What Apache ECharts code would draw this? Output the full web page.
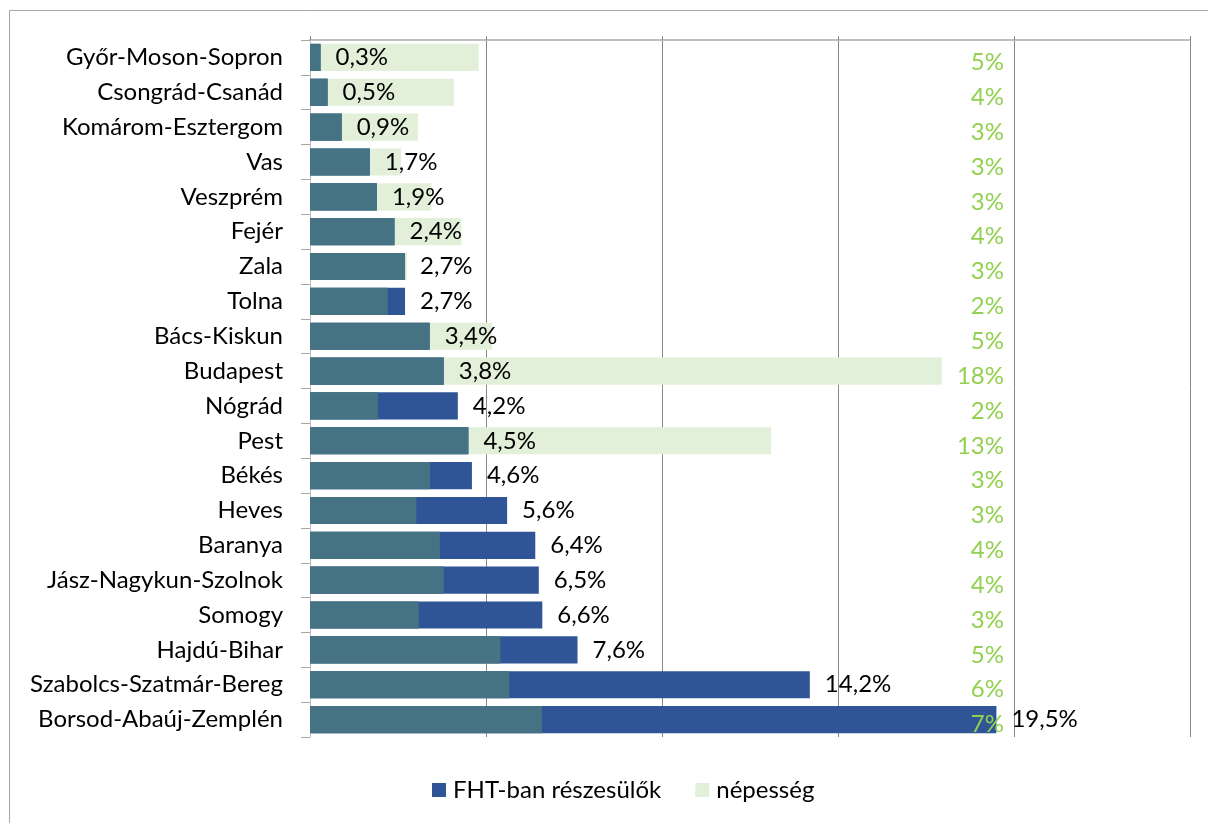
<!DOCTYPE html>
<html>
<head>
<meta charset="utf-8">
<script src="https://cdn.jsdelivr.net/npm/echarts@6/dist/echarts.min.js"></script>
<style>
  html, body { margin: 0; padding: 0; background: #fff; }
  #chart { width: 1208px; height: 823px; }
</style>
</head>
<body>
<div id="chart"></div>
<script>
// megyék, felülről lefelé
const megyek = [
    'Győr-Moson-Sopron', 'Csongrád-Csanád', 'Komárom-Esztergom', 'Vas', 'Veszprém',
    'Fejér', 'Zala', 'Tolna', 'Bács-Kiskun', 'Budapest', 'Nógrád', 'Pest', 'Békés',
    'Heves', 'Baranya', 'Jász-Nagykun-Szolnok', 'Somogy', 'Hajdú-Bihar',
    'Szabolcs-Szatmár-Bereg', 'Borsod-Abaúj-Zemplén'
];

// FHT-ban részesülők aránya (%)
const fht = [0.3, 0.5, 0.9, 1.7, 1.9, 2.4, 2.7, 2.7, 3.4, 3.8, 4.2, 4.5, 4.6, 5.6, 6.4, 6.5, 6.6, 7.6, 14.2, 19.5];

// népesség aránya (%) - a sávok hosszából becsülve
const nepesseg = [4.79, 4.09, 3.07, 2.59, 3.45, 4.3, 2.75, 2.21, 5.17, 17.95, 1.93, 13.1, 3.41, 3.02, 3.69, 3.8, 3.09, 5.41, 5.66, 6.59];

// x tengely
const xMin = 0, xMax = 25, xStep = 5;

const FONT = 'Lato';
const FS = 24;
const KEK = '#2F5597';
const ZOLD = '#E2F0D9';
const ATFEDES = '#467384';

// a két sáv közös része
const kozos = fht.map((v, i) => Math.min(v, nepesseg[i]));

const chart = echarts.init(document.getElementById('chart'), null, { renderer: 'canvas' });

chart.setOption({
    animation: false,
    textStyle: { fontFamily: FONT },
    grid: { left: 310, right: 18, top: 40, bottom: 86, containLabel: false },
    xAxis: {
        type: 'value',
        position: 'top',
        min: xMin, max: xMax, interval: xStep,
        axisLine: { show: true, lineStyle: { color: '#BFBFBF', width: 2 } },
        axisTick: { show: true, length: 4, lineStyle: { color: '#868686' } },
        axisLabel: { show: false },
        splitLine: { show: true, lineStyle: { color: '#868686', width: 1 } }
    },
    yAxis: {
        type: 'category',
        data: megyek,
        inverse: true,
        axisLine: { show: true, lineStyle: { color: '#BFBFBF', width: 1 } },
        axisTick: { show: true, length: 9, lineStyle: { color: '#A6A6A6' } },
        axisLabel: { color: '#000', fontSize: FS, fontFamily: FONT, margin: 27 }
    },
    legend: {
        data: ['FHT-ban részesülők', 'népesség'],
        left: 427, top: 773,
        icon: 'rect', itemWidth: 14, itemHeight: 14, itemGap: 34,
        textStyle: { color: '#000', fontSize: FS, fontFamily: FONT, padding: [0, 0, 0, 2] }
    },
    graphic: [{
        type: 'rect', silent: true,
        shape: { x: 9.5, y: 10.5, width: 1400, height: 1000 },
        style: { fill: 'none', stroke: '#A6A6A6', lineWidth: 1 }
    }],
    series: [
        {
            name: 'népesség', type: 'bar', z: 2,
            data: nepesseg, barWidth: '78%', barGap: '-100%',
            itemStyle: { color: ZOLD }
        },
        {
            name: 'FHT-ban részesülők', type: 'bar', z: 3,
            data: fht, barWidth: '78%', barGap: '-100%',
            itemStyle: { color: KEK },
            label: {
                show: true, position: 'right', distance: 15,
                color: '#000', fontSize: FS, fontFamily: FONT,
                formatter: p => p.value.toFixed(1).replace('.', ',') + '%'
            }
        },
        {
            name: 'átfedés', type: 'bar', z: 4,
            data: kozos, barWidth: '78%', barGap: '-100%',
            itemStyle: { color: ATFEDES }
        },
        {
            // népesség címkék egy oszlopban a 20%-os vonal előtt
            name: 'népesség címke', type: 'custom', z: 5,
            data: nepesseg.map((v, i) => [v, i]),
            encode: { x: 0, y: 1 },
            renderItem: (params, api) => {
                const p = api.coord([20, api.value(1)]);
                return {
                    type: 'text',
                    x: p[0] - 10, y: p[1] + 5,
                    style: {
                        text: Math.round(api.value(0)) + '%',
                        fill: '#92D050',
                        font: FS + 'px ' + FONT,
                        align: 'right', verticalAlign: 'middle'
                    }
                };
            }
        }
    ]
});
</script>
</body>
</html>
